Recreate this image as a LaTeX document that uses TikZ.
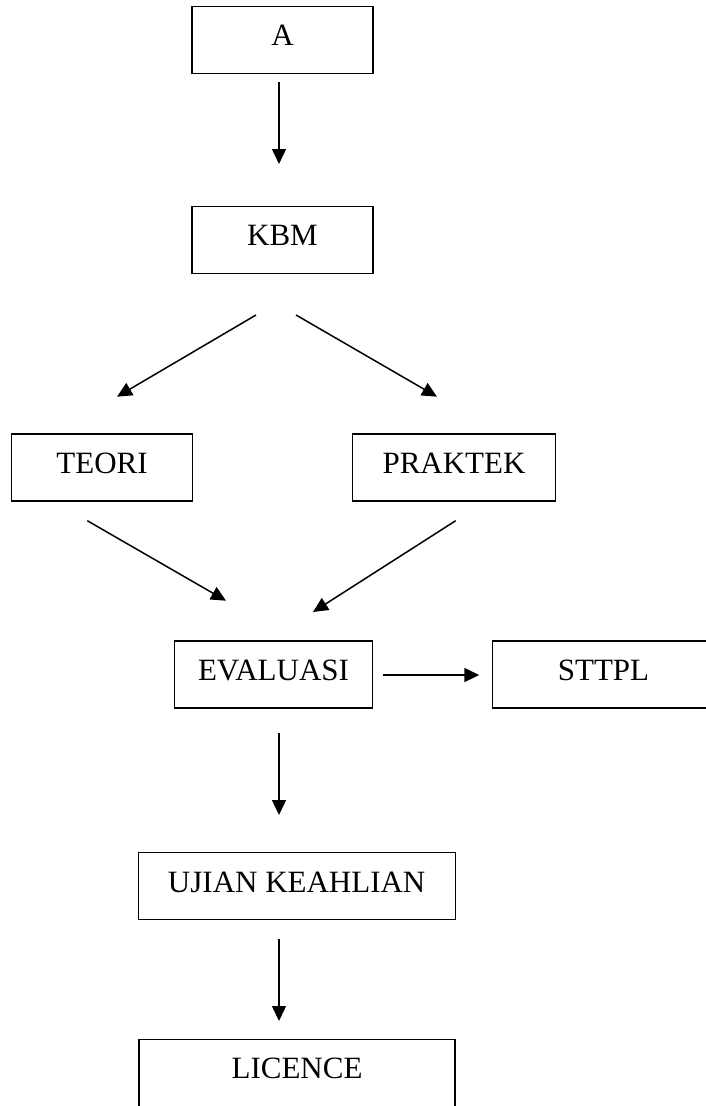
\documentclass[tikz,border=0pt]{standalone}
\usepackage{fontspec}
\setmainfont{Liberation Serif}
\usetikzlibrary{arrows.meta}

\begin{document}
\begin{tikzpicture}[x=1pt, y=1pt, line width=1.2pt,
    main/.style = {draw, rectangle, inner sep=0pt, minimum height=67pt, text height=20.5pt, text depth=9pt, font=\fontsize{31}{37}\selectfont},
    arr/.style = {-{Triangle[length=15pt, width=14pt]}, line width=1.5pt}]
    \useasboundingbox (0,0) rectangle (706,-1106);
    \node[main, minimum width=181pt](1) at (282.5,-40) {A};
    \node[main, minimum width=181pt](2) at (282.5,-240) {KBM};
    \node[main, minimum width=181pt](3) at (102,-467.5) {TEORI};
    \node[main, minimum width=203pt](4) at (454,-467.5) {PRAKTEK};
    \node[main, minimum width=198pt](5) at (273.5,-674.5) {EVALUASI};
    \node[main, minimum width=222pt](6) at (603.5,-674.5) {STTPL};
    \node[main, minimum width=317pt](7) at (296.7,-886.3) {UJIAN KEAHLIAN};
    \node[main, minimum width=316pt](8) at (297,-1072.8) {LICENCE};
    % arrow ends, the arrows float between the boxes
    \coordinate (1out) at (279,-82);    \coordinate (2in) at (279,-164);
    \coordinate (2l) at (256,-315);     \coordinate (3in) at (117,-396.7);
    \coordinate (2r) at (296,-315);     \coordinate (4in) at (437,-396.7);
    \coordinate (3out) at (87.3,-520.7); \coordinate (5l) at (226,-600.7);
    \coordinate (4out) at (455.7,-520.7); \coordinate (5r) at (313,-612);
    \coordinate (5out) at (383.3,-675); \coordinate (6in) at (479.3,-675);
    \coordinate (5down) at (279,-733);  \coordinate (7in) at (279,-815);
    \coordinate (7out) at (279,-939);   \coordinate (8in) at (279,-1021);
    \draw[arr] (1out) to (2in);
    \draw[arr] (2l) to (3in);
    \draw[arr] (2r) to (4in);
    \draw[arr] (3out) to (5l);
    \draw[arr] (4out) to (5r);
    \draw[arr] (5out) to (6in);
    \draw[arr] (5down) to (7in);
    \draw[arr] (7out) to (8in);
\end{tikzpicture}
\end{document}
